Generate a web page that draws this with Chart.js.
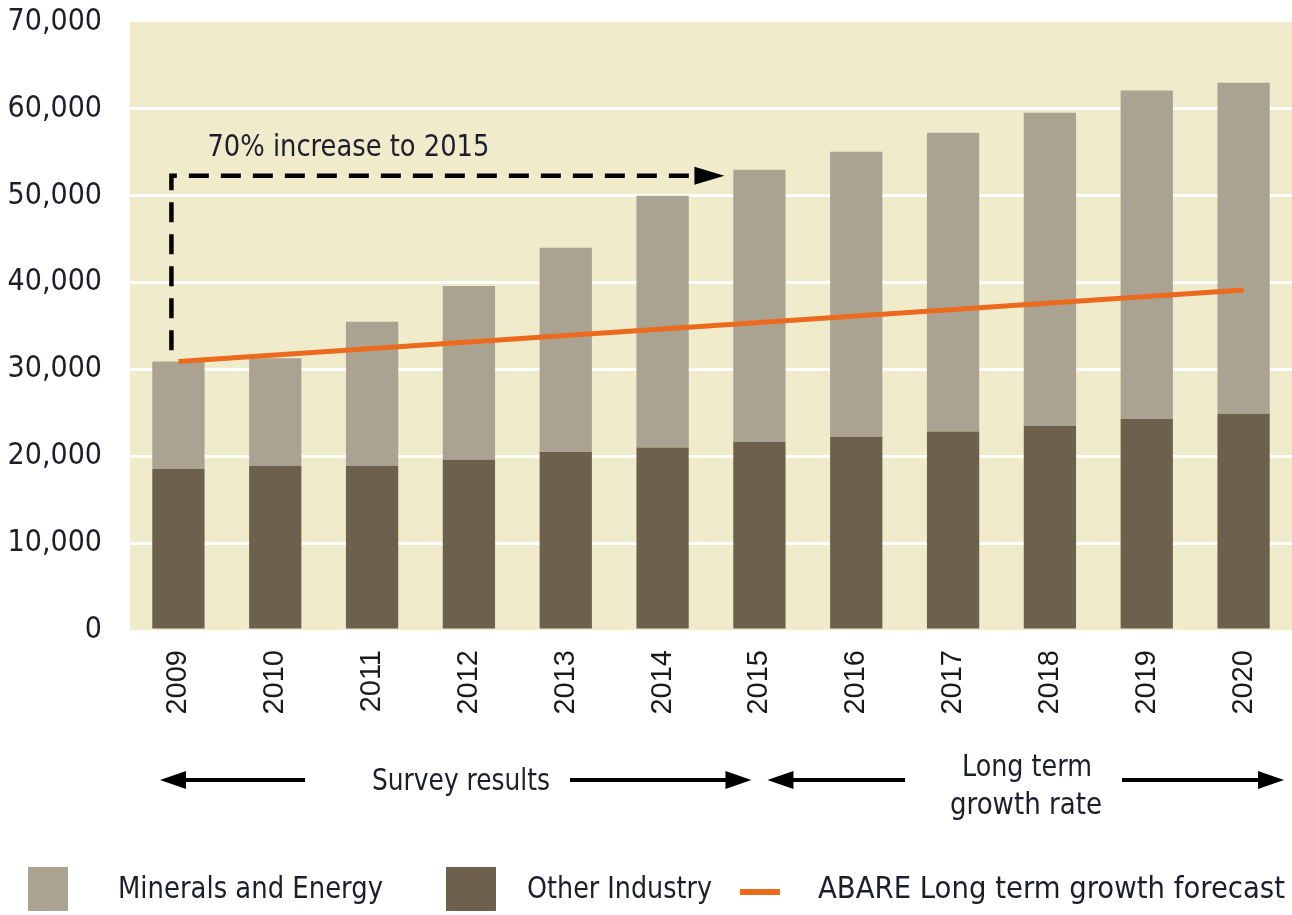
<!DOCTYPE html>
<html>
<head>
<meta charset="utf-8">
<script src="https://cdn.jsdelivr.net/npm/chart.js@4.4.1/dist/chart.umd.min.js"></script>
<style>
  html, body { margin: 0; padding: 0; background: #fff; }
  #wrap { width: 1292px; height: 915px; position: relative; }
</style>
</head>
<body>
<div id="wrap"><canvas id="myChart"></canvas></div>
<script>
//** DATA */
const years = ['2009', '2010', '2011', '2012', '2013', '2014', '2015', '2016', '2017', '2018', '2019', '2020'];
const otherIndustry = [18550, 18900, 18900, 19600, 20500, 21000, 21650, 22250, 22850, 23500, 24300, 24900];
const mineralsEnergy = [12350, 12400, 16600, 20000, 23500, 29000, 31350, 32800, 34400, 36050, 37800, 38100];
const abareForecast = [30900, 31650, 32400, 33150, 33900, 34650, 35400, 36150, 36900, 37650, 38400, 39150];
const yTicks = [0, 10000, 20000, 30000, 40000, 50000, 60000, 70000];

// dashed "70% increase" marker, from 2009 level up to the 2015 level
const increaseLabel = '70% increase to 2015';
const increaseFrom = 32200;
const increaseTo = 52300;

const COND = "'Liberation Sans Narrow', 'DejaVu Sans Condensed', 'Open Sans', sans-serif";
const TEXT = '#1d1d2c';
const ctx = document.getElementById('myChart');

//** HELPERS */
function fitText(c, text, x, y, width, size) {
  c.save();
  c.font = size + 'px ' + COND;
  const w = c.measureText(text).width;
  c.translate(x, y);
  c.scale(width / w, 1);
  c.textAlign = 'left';
  c.textBaseline = 'middle';
  c.fillStyle = TEXT;
  c.fillText(text, 0, 0);
  c.restore();
}

function arrowHead(c, tipX, tipY, dir, len, half) {
  c.beginPath();
  c.moveTo(tipX, tipY);
  c.lineTo(tipX - dir * len, tipY - half);
  c.lineTo(tipX - dir * len, tipY + half);
  c.closePath();
  c.fill();
}

function hLine(c, x1, x2, y) {
  c.beginPath();
  c.moveTo(x1, y);
  c.lineTo(x2, y);
  c.stroke();
}

//** PLOT BACKGROUND */
const background = {
  id: 'background',
  beforeDraw(chart) {
    const a = chart.chartArea;
    const c = chart.ctx;
    c.save();
    c.fillStyle = '#efebcb';
    c.fillRect(a.left, a.top, a.right - a.left, a.bottom - a.top);
    c.restore();
  }
};

//** ANNOTATIONS, ARROWS AND LEGEND */
const extras = {
  id: 'extras',
  afterDraw(chart) {
    const c = chart.ctx;
    const x = chart.scales.x;
    const y = chart.scales.y;
    const step = x.getPixelForValue(1) - x.getPixelForValue(0);

    // dashed increase arrow
    const vx = x.getPixelForValue(0) - 7;
    const topY = y.getPixelForValue(increaseTo);
    const tipX = x.getPixelForValue(6) - 35;
    c.save();
    c.strokeStyle = '#000';
    c.fillStyle = '#000';
    c.lineWidth = 4.5;
    c.setLineDash([20, 12]);
    c.beginPath();
    c.moveTo(vx, y.getPixelForValue(increaseFrom));
    c.lineTo(vx, topY);
    c.lineTo(tipX - 26, topY);
    c.stroke();
    c.setLineDash([]);
    arrowHead(c, tipX, topY, 1, 30, 9);
    c.restore();
    fitText(c, increaseLabel, vx + 36, topY - 28, 282, 31);

    // period arrows below the axis
    const ay = 780;
    c.save();
    c.strokeStyle = '#000';
    c.fillStyle = '#000';
    c.lineWidth = 4;
    const s1 = x.getPixelForValue(0) - step / 2 + 30;
    const s2 = x.getPixelForValue(6) - 8;
    arrowHead(c, s1, ay, -1, 26, 9);
    hLine(c, s1 + 20, 305, ay);
    hLine(c, 570, s2 - 20, ay);
    arrowHead(c, s2, ay, 1, 26, 9);
    const l1 = x.getPixelForValue(6) + 8;
    const l2 = x.getPixelForValue(11) + step / 2 - 8;
    arrowHead(c, l1, ay, -1, 26, 9);
    hLine(c, l1 + 20, 905, ay);
    hLine(c, 1122, l2 - 20, ay);
    arrowHead(c, l2, ay, 1, 26, 9);
    c.restore();
    fitText(c, 'Survey results', 372, ay + 2, 178, 31);
    fitText(c, 'Long term', 962, 768, 130, 31);
    fitText(c, 'growth rate', 950, 806, 152, 31);

    // legend
    const ds = chart.data.datasets;
    const ly = 890;
    c.save();
    c.fillStyle = ds[1].backgroundColor;
    c.fillRect(28, 867, 40, 44);
    c.fillStyle = ds[0].backgroundColor;
    c.fillRect(446, 867, 50, 44);
    c.strokeStyle = ds[2].borderColor;
    c.lineWidth = 6;
    hLine(c, 740, 780, ly + 2);
    c.restore();
    fitText(c, ds[1].label, 118, ly, 265, 31);
    fitText(c, ds[0].label, 527, ly, 185, 31);
    fitText(c, ds[2].label, 818, ly, 467, 31);
  }
};

//** CHART */
const data = {
  labels: years,
  datasets: [
    {
      label: 'Other Industry',
      data: otherIndustry,
      backgroundColor: '#6d614d',
      stack: 'bars',
      order: 1,
      categoryPercentage: 1,
      barPercentage: 0.54,
    },
    {
      label: 'Minerals and Energy',
      data: mineralsEnergy,
      backgroundColor: '#aaa392',
      stack: 'bars',
      order: 1,
      categoryPercentage: 1,
      barPercentage: 0.54,
    },
    {
      type: 'line',
      label: 'ABARE Long term growth forecast',
      data: abareForecast,
      borderColor: '#ec6a1e',
      borderWidth: 5,
      pointRadius: 0,
      stack: 'forecast',
      order: 0,
      tension: 0,
    },
  ],
};

const config = {
  type: 'bar',
  data: data,
  plugins: [background, extras],
  options: {
    responsive: true,
    maintainAspectRatio: false,
    animation: false,
    layout: { padding: { top: 22, left: 0, right: 0, bottom: 0 } },
    plugins: {
      legend: { display: false },
      tooltip: { enabled: false },
    },
    scales: {
      x: {
        stacked: true,
        grid: { display: false },
        border: { display: false },
        ticks: {
          minRotation: 90,
          maxRotation: 90,
          padding: 12,
          color: '#1a1a1a',
          font: { family: "'Liberation Sans', Arial, sans-serif", size: 29 },
        },
        afterFit: (scale) => { scale.height = 285; scale.paddingLeft = 0; scale.paddingRight = 0; },
      },
      y: {
        stacked: true,
        min: 0,
        max: 70000,
        afterBuildTicks: (scale) => { scale.ticks = yTicks.map(v => ({ value: v })); },
        grid: {
          color: (c) => (c.tick && (c.tick.value === 0 || c.tick.value === 70000)) ? 'rgba(0,0,0,0)' : '#ffffff',
          lineWidth: 3,
          drawTicks: false,
        },
        border: { display: false },
        ticks: {
          padding: 28,
          color: TEXT,
          font: { family: COND, size: 30 },
          callback: (v) => v.toLocaleString('en-US'),
        },
        afterFit: (scale) => { scale.width = 130; scale.paddingTop = 0; scale.paddingBottom = 0; },
      },
    },
  },
};

const chart = new Chart(ctx, config);
</script>
</body>
</html>
